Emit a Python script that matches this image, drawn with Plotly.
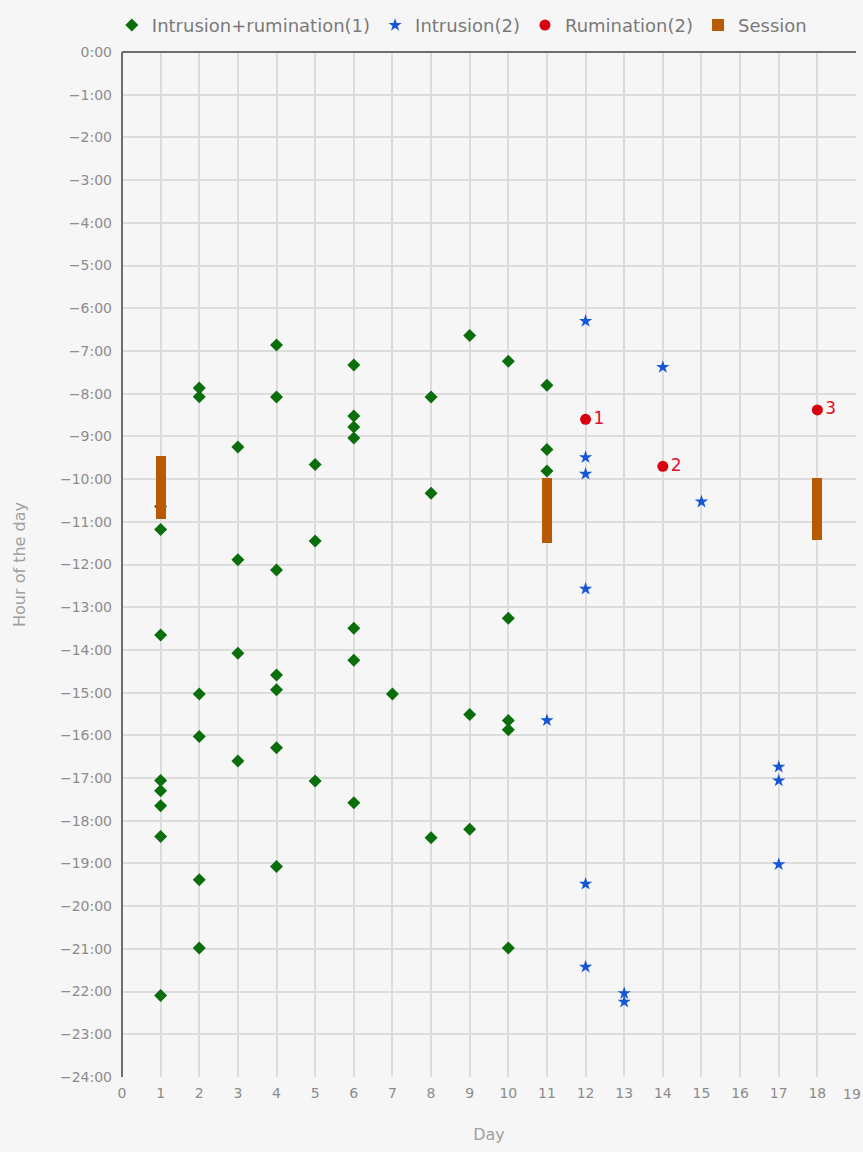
import plotly.graph_objects as go

# Intrusion+rumination(1): day, hour (hours before midnight shown as negative)
ir_days = [1, 1, 1, 1, 1, 1, 1, 1,
           2, 2, 2, 2, 2, 2,
           3, 3, 3, 3,
           4, 4, 4, 4, 4, 4, 4,
           5, 5, 5,
           6, 6, 6, 6, 6, 6, 6,
           7,
           8, 8, 8,
           9, 9, 9,
           10, 10, 10, 10, 10,
           11, 11, 11]
ir_hours = [10.64, 11.18, 13.65, 17.06, 17.3, 17.65, 18.37, 22.09,
            7.87, 8.07, 15.03, 16.03, 19.38, 20.98,
            9.25, 11.89, 14.08, 16.6,
            6.86, 8.08, 12.13, 14.59, 14.93, 16.29, 19.07,
            9.66, 11.45, 17.07,
            7.33, 8.52, 8.78, 9.04, 13.49, 14.24, 17.58,
            15.03,
            8.08, 10.33, 18.4,
            6.64, 15.51, 18.2,
            7.24, 13.26, 15.65, 15.87, 20.98,
            7.8, 9.31, 9.81]

# Intrusion(2)
in_days = [11, 12, 12, 12, 12, 12, 12, 13, 13, 14, 15, 17, 17, 17]
in_hours = [15.65, 6.3, 9.49, 9.88, 12.57, 19.48, 21.42, 22.04, 22.24,
            7.38, 10.53, 16.74, 17.06, 19.02]

# Rumination(2)
ru_days = [12, 14, 18]
ru_hours = [8.6, 9.7, 8.38]
ru_labels = ["1", "2", "3"]

# Session: day, start hour, end hour
se_days = [1, 11, 18]
se_start = [9.46, 9.98, 9.98]
se_end = [10.93, 11.5, 11.43]

y_ticks = list(range(0, 25))
y_ticktext = ["0:00"] + ["\u2212%d:00" % h for h in y_ticks[1:]]
x_ticks = list(range(0, 20))

grey = "#8c8c8c"
FONT = "DejaVu Sans"
fig = go.Figure()

fig.add_trace(go.Scatter(
    x=ir_days, y=[-h for h in ir_hours], mode="markers",
    name="Intrusion+rumination(1)",
    marker=dict(symbol="diamond", size=10, color="#0a6e0a"),
))
fig.add_trace(go.Scatter(
    x=in_days, y=[-h for h in in_hours], mode="markers",
    name="Intrusion(2)",
    marker=dict(symbol="star", size=10, color="#1556d6"),
))
fig.add_trace(go.Scatter(
    x=ru_days, y=[-h for h in ru_hours], mode="markers+text",
    name="Rumination(2)", text=ru_labels, textposition="middle right",
    textfont=dict(size=17, color="#e0102a", family=FONT),
    marker=dict(symbol="circle", size=11, color="#d8000f"),
))
fig.add_trace(go.Bar(
    x=se_days, base=[-e for e in se_end],
    y=[e - s for s, e in zip(se_start, se_end)],
    name="Session", width=0.26, marker=dict(color="#b85a04", line=dict(width=0)),
    xaxis="x2", yaxis="y2",
))

axis_common = dict(showgrid=True, gridcolor="#dcdcdc", gridwidth=1.5,
                   tickfont=dict(size=14, color=grey, family=FONT), ticks="")

fig.update_layout(
    width=863, height=1152,
    margin=dict(l=122, r=7, t=45, b=75),
    paper_bgcolor="#f6f6f6", plot_bgcolor="#f6f6f6",
    font=dict(family=FONT, color=grey),
    showlegend=True,
    legend=dict(orientation="h", x=0.463, xanchor="center", y=1.026, yanchor="middle",
                font=dict(size=18, color="#7a7a7a", family=FONT),
                bgcolor="rgba(0,0,0,0)", itemwidth=30),
    xaxis=dict(range=[0, 19], tickvals=x_ticks, zeroline=True, zerolinecolor="#6e6e6e",
               zerolinewidth=2, ticklabelstandoff=6,
               title=dict(text="Day", font=dict(size=16, color="#a0a0a0", family=FONT),
                          standoff=28),
               **axis_common),
    yaxis=dict(range=[-24, 0], tickvals=[-t for t in y_ticks], ticktext=y_ticktext,
               zeroline=True, zerolinecolor="#6e6e6e", zerolinewidth=2,
               ticklabelstandoff=9,
               title=dict(text="Hour of the day", font=dict(size=16, color="#a0a0a0", family=FONT),
                          standoff=30),
               **axis_common),
    xaxis2=dict(range=[0, 19], overlaying="x", visible=False),
    yaxis2=dict(range=[-24, 0], overlaying="y", visible=False),
    bargap=0,
)

# last x tick label, kept inside the right edge
fig.add_annotation(x=19, xref="x", y=0, yref="paper", yanchor="top", xanchor="right",
                   xshift=7, yshift=-7, text="19", showarrow=False,
                   font=dict(size=14, color=grey, family=FONT))

fig.write_html("out.html", config={"displayModeBar": False},
               post_script="document.body.style.margin='0';document.body.style.background='#f6f6f6';")
